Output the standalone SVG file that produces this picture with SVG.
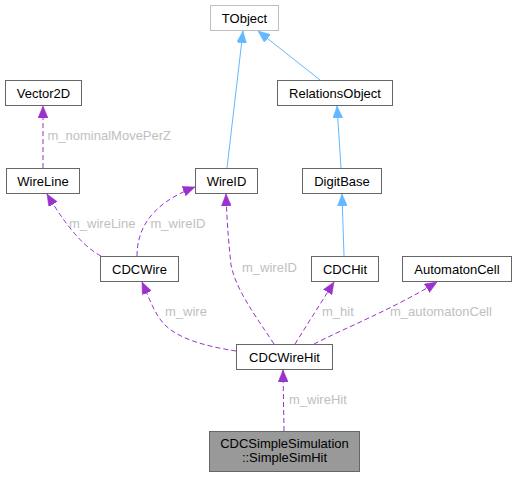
<svg xmlns="http://www.w3.org/2000/svg" width="516" height="477" viewBox="0 0 516 477">
<style>
.box{fill:#ffffff;stroke:#666666;stroke-width:1}
.boxl{fill:#ffffff;stroke:#bfbfbf;stroke-width:1}
.boxd{fill:#999999;stroke:#666666;stroke-width:1}
.t{font-family:"Liberation Sans",Arial,sans-serif;font-size:13px;fill:#000000;text-anchor:middle}
.lb{font-family:"Liberation Sans",Arial,sans-serif;font-size:13px;fill:#c0c0c0}
.inh{fill:none;stroke:#63b8ff;stroke-width:1;marker-end:url(#ab)}
.use{fill:none;stroke:#9a32cd;stroke-width:1;stroke-dasharray:5,3;marker-end:url(#ap)}
</style>
<defs>
<marker id="ab" viewBox="0 0 12 10" refX="12" refY="5" markerWidth="12" markerHeight="10" markerUnits="userSpaceOnUse" orient="auto">
<path d="M0,0 L12,5 L0,10 z" fill="#63b8ff" stroke="#63b8ff" stroke-width="0.5"/>
</marker>
<marker id="ap" viewBox="0 0 12 10" refX="12" refY="5" markerWidth="12" markerHeight="10" markerUnits="userSpaceOnUse" orient="auto">
<path d="M0,0 L12,5 L0,10 z" fill="#9a32cd" stroke="#9a32cd" stroke-width="0.5"/>
</marker>
</defs>
<g id="edges">
<path class="inh" d="M227,168 L243,31"/>
<path class="inh" d="M320,80 L258,31"/>
<path class="inh" d="M341,168 L337,106"/>
<path class="inh" d="M344,256 L342,194"/>
<path class="use" d="M43,168 L43,106"/>
<path class="use" d="M101,256 Q76,243 47,194"/>
<path class="use" d="M137,256 C137,230 150,204 195,187"/>
<path class="use" d="M274,344 C255,315 236,290 231,265 C229,245 227,225 226,194"/>
<path class="use" d="M236,351 C210,347 180,340 165,325 C155,315 150,300 142,282"/>
<path class="use" d="M295,344 L334,282"/>
<path class="use" d="M314,344 C345,328 395,308 437,282"/>
<path class="use" d="M284,431 L283,370"/>
<text class="lb" x="47.5" y="139.5">m_nominalMovePerZ</text>
<text class="lb" x="69" y="227.5">m_wireLine</text>
<text class="lb" x="150.5" y="227.5">m_wireID</text>
<text class="lb" x="242" y="272">m_wireID</text>
<text class="lb" x="165" y="316">m_wire</text>
<text class="lb" x="322" y="316">m_hit</text>
<text class="lb" x="390" y="316">m_automatonCell</text>
<text class="lb" x="289" y="404">m_wireHit</text>
</g>
<g id="TObject"><rect class="boxl" x="210.5" y="5.5" width="68" height="25"/><text class="t" x="244.5" y="22.5">TObject</text></g>
<g id="RelationsObject"><rect class="box" x="277.5" y="80.5" width="115" height="25"/><text class="t" x="335" y="97.5">RelationsObject</text></g>
<g id="Vector2D"><rect class="box" x="5.5" y="80.5" width="76" height="25"/><text class="t" x="43.5" y="97.5">Vector2D</text></g>
<g id="WireLine"><rect class="box" x="6.5" y="168.5" width="73" height="25"/><text class="t" x="43" y="185.5">WireLine</text></g>
<g id="WireID"><rect class="box" x="195.5" y="168.5" width="62" height="25"/><text class="t" x="226.5" y="185.5">WireID</text></g>
<g id="DigitBase"><rect class="box" x="302.5" y="168.5" width="79" height="25"/><text class="t" x="342" y="185.5">DigitBase</text></g>
<g id="CDCWire"><rect class="box" x="100.5" y="256.5" width="78" height="25"/><text class="t" x="139.5" y="273.5">CDCWire</text></g>
<g id="CDCHit"><rect class="box" x="311.5" y="256.5" width="67" height="25"/><text class="t" x="345" y="273.5">CDCHit</text></g>
<g id="AutomatonCell"><rect class="box" x="402.5" y="256.5" width="109" height="25"/><text class="t" x="457" y="273.5">AutomatonCell</text></g>
<g id="CDCWireHit"><rect class="box" x="236.5" y="344.5" width="96" height="25"/><text class="t" x="284.5" y="361.5">CDCWireHit</text></g>
<g id="SimpleSimHit"><rect class="boxd" x="209.5" y="431.5" width="150" height="40"/><text class="t" x="284.5" y="447.5">CDCSimpleSimulation</text><text class="t" x="284.5" y="461.5">::SimpleSimHit</text></g>
</svg>
